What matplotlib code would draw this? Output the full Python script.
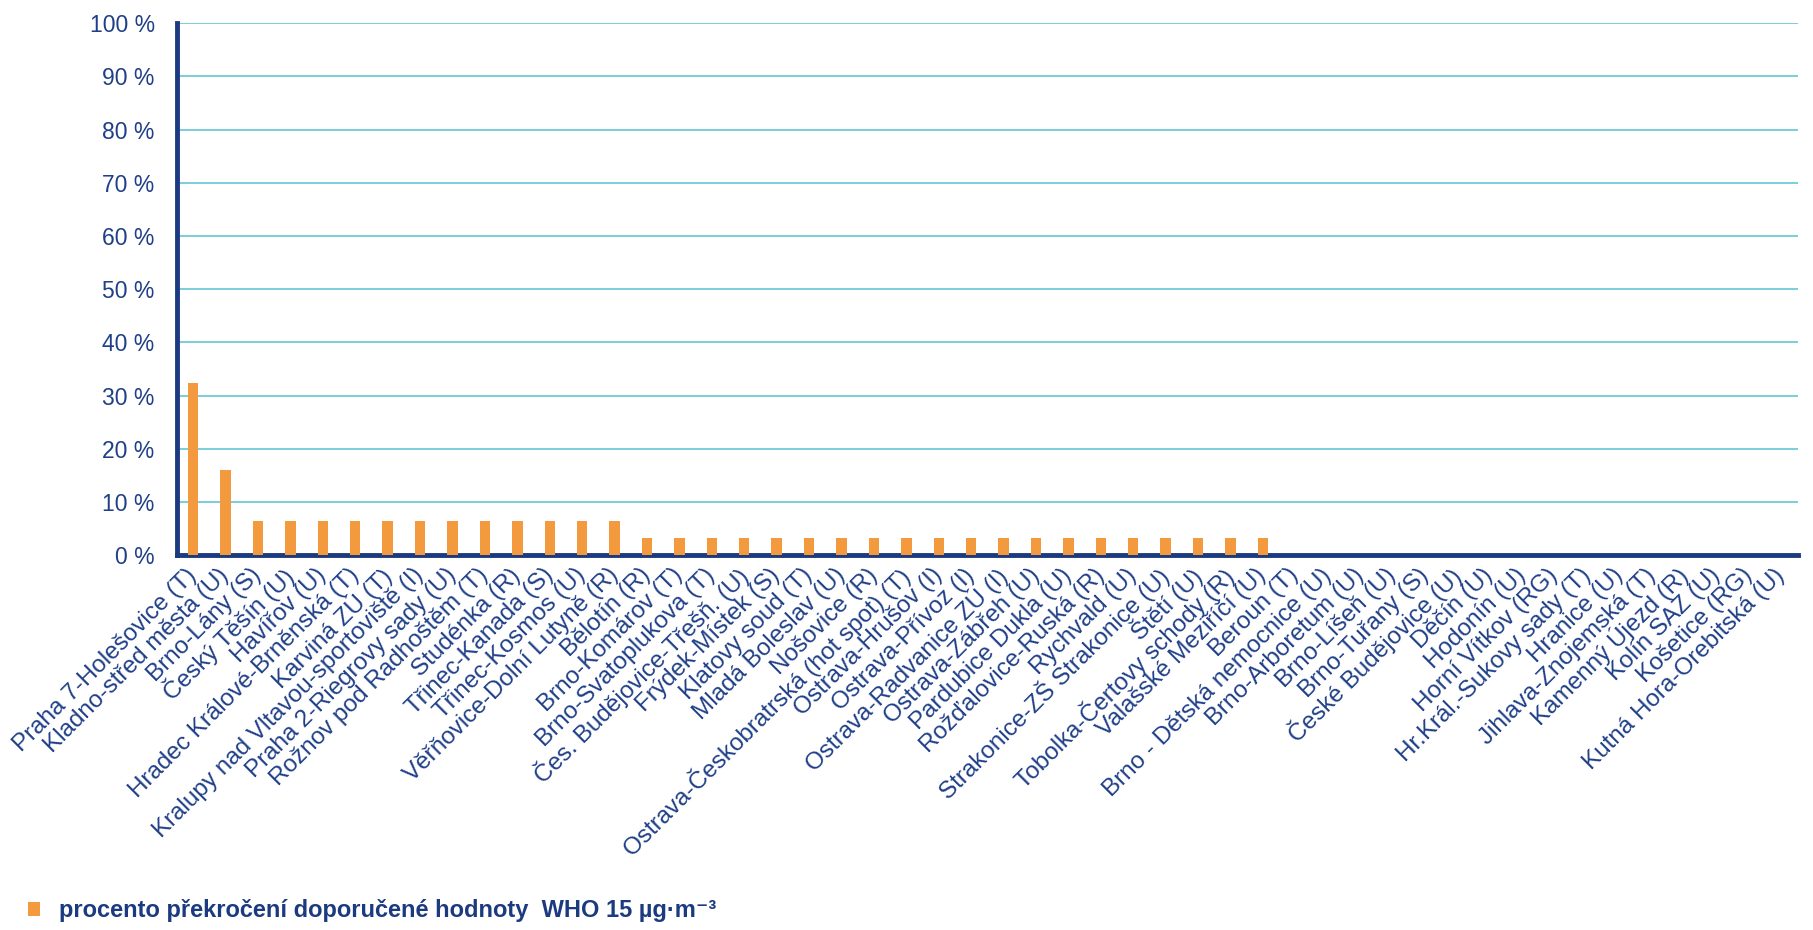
import matplotlib

matplotlib.use('Agg')
import matplotlib.pyplot as plt
import matplotlib.transforms as mtransforms
from matplotlib.patches import Patch

plt.rcParams['font.family'] = ['Liberation Sans', 'DejaVu Sans']

# station names (ordered as in the original chart)
stations = [
    'Praha 7-Holešovice (T)', 'Kladno-střed města (U)', 'Brno-Lány (S)',
    'Český Těšín (U)', 'Havířov (U)', 'Hradec Králové-Brněnská (T)',
    'Karviná ZÚ (T)', 'Kralupy nad Vltavou-sportoviště (I)',
    'Praha 2-Riegrovy sady (U)', 'Rožnov pod Radhoštěm (T)', 'Studénka (R)',
    'Třinec-Kanada (S)', 'Třinec-Kosmos (U)', 'Věřňovice-Dolní Lutyně (R)',
    'Bělotín (R)', 'Brno-Komárov (T)', 'Brno-Svatoplukova (T)',
    'Čes. Budějovice-Třešň. (U)', 'Frýdek-Místek (S)', 'Klatovy soud (T)',
    'Mladá Boleslav (U)', 'Nošovice (R)',
    'Ostrava-Českobratrská (hot spot) (T)', 'Ostrava-Hrušov (I)',
    'Ostrava-Přívoz (I)', 'Ostrava-Radvanice ZÚ (I)', 'Ostrava-Zábřeh (U)',
    'Pardubice Dukla (U)', 'Rožďalovice-Ruská (R)', 'Rychvald (U)',
    'Strakonice-ZŠ Strakonice (U)', 'Štětí (U)', 'Tobolka-Čertovy schody (R)',
    'Valašské Meziříčí (U)', 'Beroun (T)', 'Brno - Dětská nemocnice (U)',
    'Brno-Arboretum (U)', 'Brno-Líšeň (U)', 'Brno-Tuřany (S)',
    'České Budějovice (U)', 'Děčín (U)', 'Hodonín (U)', 'Horní Vítkov (RG)',
    'Hr.Král.-Sukovy sady (T)', 'Hranice (U)', 'Jihlava-Znojemská (T)',
    'Kamenný Újezd (R)', 'Kolín SAZ (U)', 'Košetice (RG)',
    'Kutná Hora-Orebitská (U)',
]

# percent of days over the WHO guideline
exceed_pct = [
    32.3, 16.1, 6.5, 6.5, 6.5, 6.5, 6.5, 6.5, 6.5, 6.5, 6.5, 6.5, 6.5, 6.5,
    3.2, 3.2, 3.2, 3.2, 3.2, 3.2, 3.2, 3.2, 3.2, 3.2, 3.2, 3.2, 3.2, 3.2,
    3.2, 3.2, 3.2, 3.2, 3.2, 3.2,
    0, 0, 0, 0, 0, 0, 0, 0, 0, 0, 0, 0, 0, 0, 0, 0,
]

yticks = [0, 10, 20, 30, 40, 50, 60, 70, 80, 90, 100]
legend_label = 'procento překročení doporučené hodnoty  WHO 15 µg·m⁻³'

navy = '#1B3A80'
text_col = '#1F3F87'
orange = '#F39A3F'
grid_col = '#79CEDA'

fig = plt.figure(figsize=(18.13, 9.3), dpi=100)
ax = fig.add_axes([0.0976, 0.403, 0.894, 0.572])

x = list(range(len(stations)))
bars = ax.bar(x, exceed_pct, width=0.32, color=orange, zorder=3)

ax.set_xlim(-0.5, len(stations) - 0.5)
ax.set_ylim(0, 100)
ax.set_yticks(yticks)
ax.set_yticklabels([f'{v} %' for v in yticks], fontsize=16.5)
ax.yaxis.grid(True, color=grid_col, linewidth=1.4, zorder=0)
ax.set_axisbelow(True)

ax.set_xticks(x)
ax.set_xticklabels(stations, rotation=45, ha='right', va='center',
                   rotation_mode='anchor', fontsize=17.5)
# nudge the rotated labels a bit to the right, as in the original
shift = mtransforms.ScaledTranslation(0.14, 0, fig.dpi_scale_trans)
for lab in ax.get_xticklabels():
    lab.set_transform(lab.get_transform() + shift)

ax.tick_params(axis='both', length=0, colors=text_col)
ax.tick_params(axis='y', pad=16)
ax.tick_params(axis='x', pad=12)

for s in ['top', 'right']:
    ax.spines[s].set_visible(False)
for s in ['left', 'bottom']:
    ax.spines[s].set_color(navy)
    ax.spines[s].set_linewidth(3.5)

handle = Patch(facecolor=orange, edgecolor='none')
fig.legend(handles=[handle], labels=[legend_label], loc='lower left',
           bbox_to_anchor=(0.005, -0.012), frameon=False, handlelength=0.5,
           handleheight=0.5, handletextpad=0.8, borderpad=0.3,
           prop={'size': 17, 'weight': 'bold'}, labelcolor=navy)

plt.savefig('out.png')
